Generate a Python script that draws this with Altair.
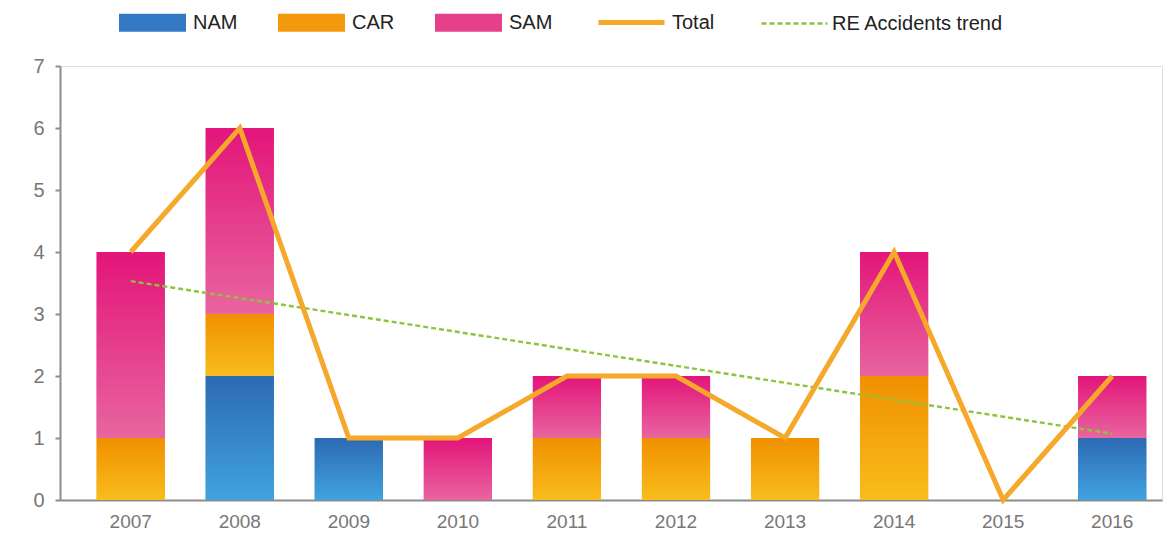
import altair as alt
import pandas as pd

years = ["2007", "2008", "2009", "2010", "2011", "2012", "2013", "2014", "2015", "2016"]
regions = ["NAM", "CAR", "SAM"]
nam = [0, 2, 1, 0, 0, 0, 0, 0, 0, 1]
car = [1, 1, 0, 0, 1, 1, 1, 2, 0, 0]
sam = [3, 3, 0, 1, 1, 1, 0, 2, 0, 1]
total = [4, 6, 1, 1, 2, 2, 1, 4, 0, 2]
trend_years = ["2007", "2016"]
trend_vals = [3.53, 1.07]

solid_colors = ["#3479c4", "#f39a0c", "#e5418b"]
grad_top = {"NAM": "#2d6ab3", "CAR": "#f09000", "SAM": "#e3157a"}
grad_bot = {"NAM": "#40a3df", "CAR": "#f8bd1c", "SAM": "#e8659f"}
TOTAL_COLOR = "#f5a82a"
TREND_COLOR = "#8fc43a"

FONT = "Liberation Sans"

rows = []
for i, y in enumerate(years):
    for k, (r, vals) in enumerate(zip(regions, [nam, car, sam])):
        rows.append({"year": y, "region": r, "value": vals[i], "order": k})
bars_df = pd.DataFrame(rows)

total_df = pd.DataFrame({"year": years, "v": total, "series": "Total"})
trend_df = pd.DataFrame({"year": trend_years, "v": trend_vals, "series": "RE Accidents trend"})

xscale = alt.Scale(domain=years, paddingInner=0.375, paddingOuter=0.24, align=0.7)
x_enc = alt.X("year:N", scale=xscale, sort=years,
              axis=alt.Axis(title=None, labelAngle=0, ticks=False, labelPadding=12,
                            labelFontSize=19, labelColor="#777777", labelFont=FONT,
                            domainColor="#8c8c8c", domainWidth=2))
yscale = alt.Scale(domain=[0, 7], nice=False)
y_axis = alt.Axis(title=None, values=[0, 1, 2, 3, 4, 5, 6, 7], format="d", grid=False, tickSize=5,
                  tickWidth=2, tickColor="#8c8c8c", domainColor="#8c8c8c", domainWidth=2,
                  labelPadding=11, labelFontSize=20, labelColor="#777777", labelFont=FONT)

LEG_Y = -77

stacked = alt.Chart(bars_df).transform_filter("datum.value > 0").transform_stack(
    stack="value", groupby=["year"], as_=["v0", "v1"],
    sort=[alt.SortField("order", order="ascending")])

base_bars = stacked.mark_bar().encode(
    x=x_enc,
    y=alt.Y("v1:Q", scale=yscale, axis=y_axis),
    y2="v0:Q",
    color=alt.Color("region:N", scale=alt.Scale(domain=regions, range=solid_colors),
                    legend=alt.Legend(title=None, orient="none", direction="horizontal",
                                      legendX=59, legendY=LEG_Y,
                                      symbolType="M-1,-0.27H1V0.27H-1Z", symbolSize=4489,
                                      symbolStrokeWidth=0, symbolOpacity=1,
                                      labelFontSize=20, labelFont=FONT, labelColor="#222222",
                                      labelOffset=7, columnPadding=40)),
)

grad_layers = []
for r in regions:
    g = alt.Gradient(gradient="linear", x1=0, x2=0, y1=0, y2=1,
                     stops=[alt.GradientStop(color=grad_top[r], offset=0),
                            alt.GradientStop(color=grad_bot[r], offset=1)])
    grad_layers.append(
        stacked.transform_filter(alt.datum.region == r).mark_bar(color=g).encode(
            x=alt.X("year:N", scale=xscale, sort=years),
            y=alt.Y("v1:Q", scale=yscale),
            y2="v0:Q",
        )
    )

trend_line = alt.Chart(trend_df).mark_line(stroke=TREND_COLOR, strokeWidth=2.4).encode(
    x=alt.X("year:N", scale=xscale, sort=years),
    y=alt.Y("v:Q", scale=yscale),
    strokeDash=alt.StrokeDash("series:N",
                              scale=alt.Scale(domain=["RE Accidents trend"], range=[[5, 3]]),
                              legend=alt.Legend(title=None, orient="none", legendX=700,
                                                legendY=LEG_Y, symbolType="stroke",
                                                symbolSize=4356, symbolStrokeColor=TREND_COLOR,
                                                symbolStrokeWidth=2.4, labelFontSize=20,
                                                labelFont=FONT, labelColor="#222222",
                                                labelOffset=3, labelLimit=400)),
)

total_line = alt.Chart(total_df).mark_line(strokeWidth=5).encode(
    x=alt.X("year:N", scale=xscale, sort=years),
    y=alt.Y("v:Q", scale=yscale),
    color=alt.Color("series:N", scale=alt.Scale(domain=["Total"], range=[TOTAL_COLOR]),
                    legend=alt.Legend(title=None, orient="none", legendX=536,
                                      legendY=LEG_Y - 2, symbolType="stroke",
                                      symbolSize=4356, symbolStrokeWidth=5,
                                      labelFontSize=20, labelFont=FONT,
                                      labelColor="#222222", labelOffset=5)),
)

chart = alt.layer(base_bars, *grad_layers, trend_line, total_line).resolve_scale(
    color="independent", strokeDash="independent"
).properties(
    width=1102, height=434,
    autosize=alt.AutoSizeParams(type="none"),
    padding={"left": 52, "top": 58, "right": 3, "bottom": 38},
).configure_view(stroke=None).configure(background="white")

chart.save("out.html", embed_options={"renderer": "svg", "actions": False})
